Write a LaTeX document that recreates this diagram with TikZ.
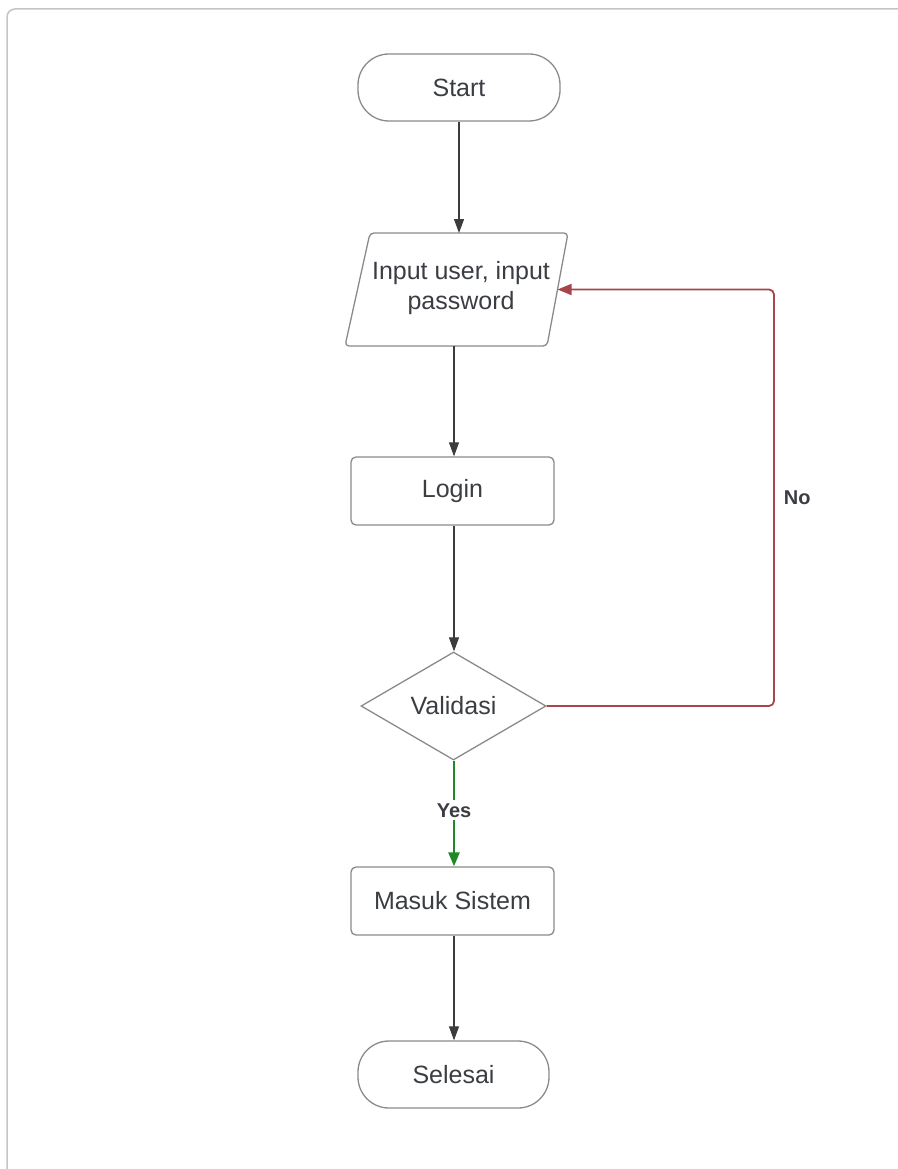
\documentclass[tikz,border=0pt]{standalone}
\usepackage{fontspec}
\setmainfont{Liberation Sans}
\usetikzlibrary{shapes.geometric,arrows.meta}
\definecolor{txt}{HTML}{3A3D42}
\definecolor{edge}{HTML}{8A8A8A}
\definecolor{flow}{HTML}{3C3C3C}
\definecolor{nored}{HTML}{A8454A}
\definecolor{yesgreen}{HTML}{1F8A24}
\definecolor{frame}{HTML}{C4C4C4}
\tikzset{
  box/.style={draw=edge, line width=1.3pt, text=txt, font=\fontsize{25}{30}\selectfont,
    align=center, inner sep=0pt},
  terminal/.style={box, rectangle, rounded corners=31pt, minimum width=202pt, minimum height=67pt},
  process/.style={box, rectangle, rounded corners=5pt, minimum width=203pt, minimum height=68pt},
  iotext/.style={text=txt, font=\fontsize{25}{30}\selectfont, align=center, inner sep=0pt},
  iobox/.style={draw=edge, line width=1.3pt, rounded corners=4pt},
  decision/.style={box, diamond, aspect=1.72, minimum width=185pt, minimum height=108pt},
  flowline/.style={draw=flow, line width=1.1pt, -{Triangle[length=14pt,width=10pt]}},
  lbl/.style={font=\bfseries\fontsize{20}{24}\selectfont, text=txt, fill=white, inner sep=3pt}
}
\begin{document}
\begin{tikzpicture}[x=1pt,y=-1pt]
\useasboundingbox (0,0) rectangle (897,1169);
% outer frame
\draw[frame, line width=1.5pt, rounded corners=8pt] (912,9) -- (7,9) -- (7,1185);

% nodes
\node[terminal] (start) at (459,87.5) {Start};
% input/output parallelogram
\coordinate (inTL) at (370,233);
\coordinate (inTR) at (568,233);
\coordinate (inBR) at (547,346);
\coordinate (inBL) at (345,346);
\draw[iobox] (inTL) -- (inTR) -- (inBR) -- (inBL) -- cycle;
\coordinate (inTop) at (459,233);
\coordinate (inBottom) at (454,346);
\coordinate (inRight) at (557.5,289.5);
\node[iotext] (input) at (461,288) {Input user, input\\password};
\node[process] (login) at (452.5,491) {Login};
\node[decision] (valid) at (453.5,706) {Validasi};
\node[process] (masuk) at (452.5,901) {Masuk Sistem};
\node[terminal, minimum width=191pt] (selesai) at (453.5,1074.5) {Selesai};
\coordinate (corner1) at (774,706);
\coordinate (corner2) at (774,289.5);

% connectors
\draw[flowline] (start.south) -- (inTop);
\draw[flowline] (inBottom) -- (login.north -| inBottom);
\draw[flowline] (login.south -| inBottom) -- (valid.north -| inBottom);
\draw[draw=yesgreen, line width=2.4pt, -{Triangle[length=14pt,width=11pt]}]
  (valid.south -| inBottom) -- node[lbl, pos=0.47] {Yes} (masuk.north -| inBottom);
\draw[flowline] (masuk.south -| inBottom) -- (selesai.north -| inBottom);
\draw[draw=nored, line width=1.8pt, rounded corners=5pt, -{Triangle[length=14pt,width=11pt]}]
  (valid.east) -- (corner1) -- node[lbl, right=6pt, pos=0.5, fill=none] {No} (corner2) -- (inRight);
\end{tikzpicture}
\end{document}
